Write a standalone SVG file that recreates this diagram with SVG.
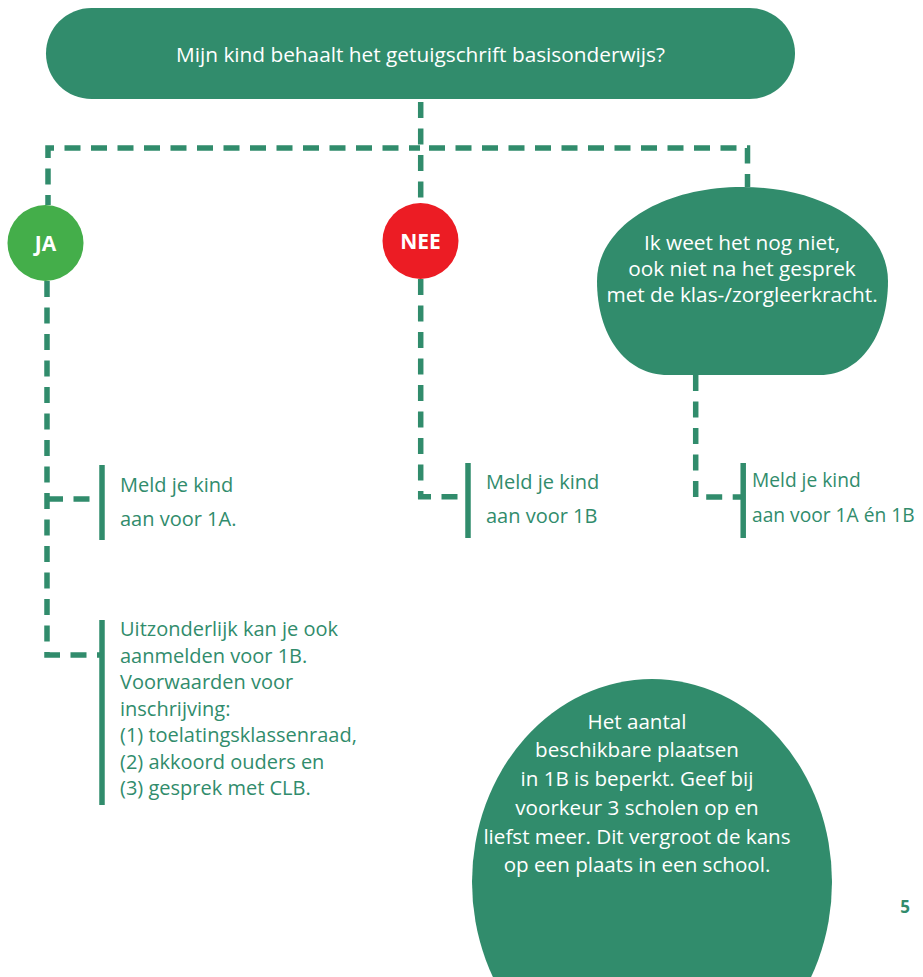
<svg xmlns="http://www.w3.org/2000/svg" width="923" height="977" viewBox="0 0 923 977">
<style>
.fill{fill:#318c6c}
.dash{fill:none;stroke:#318c6c;stroke-width:5.5;stroke-dasharray:16 10.5}
.bar{fill:none;stroke:#318c6c;stroke-width:5.5}
.w{font-family:"Open Sans","Liberation Sans",sans-serif;fill:#ffffff;text-anchor:middle}
.lbl{font-family:"Open Sans","Liberation Sans",sans-serif;fill:#318c6c;font-size:20px}
.big{font-family:"Open Sans","Liberation Sans",sans-serif;font-weight:bold;fill:#ffffff;text-anchor:middle;font-size:21px}
</style>
<rect width="923" height="977" fill="#ffffff"/>
<g id="connectors">
<path class="dash" d="M420.7 102 V203"/>
<path class="dash" d="M48 205 V148 H420" stroke-dashoffset="6"/>
<path class="dash" d="M747.5 187 V148 H420" stroke-dashoffset="3"/>
<path class="dash" d="M47 281 V655 H102"/>
<path class="dash" d="M47 499 H102"/>
<path class="dash" d="M420.7 279 V496.7 H468"/>
<path class="dash" d="M695.7 375 V497 H743"/>
<path class="bar" d="M102 465 V540"/>
<path class="bar" d="M102 620 V805"/>
<path class="bar" d="M468 463 V538"/>
<path class="bar" d="M743.2 463 V538"/>
</g>
<g id="question">
<rect class="fill" x="46" y="8" width="749" height="91" rx="45.5"/>
<text class="w" x="420.5" y="62" font-size="20.8px">Mijn kind behaalt het getuigschrift basisonderwijs?</text>
</g>
<g id="ja">
<circle cx="45.5" cy="243" r="38" fill="#44ae4a"/>
<text class="big" x="45.5" y="250.5">JA</text>
</g>
<g id="nee">
<circle cx="420.5" cy="241" r="38" fill="#ec1c24"/>
<text class="big" x="420.5" y="248.5">NEE</text>
</g>
<g id="weetniet">
<path class="fill" d="M597 281 C597 228 660 187 742 187 C825 187 888 228 888 281 C888 335 860 375 820 375 L668 375 C625 375 597 335 597 281 Z"/>
<text class="w" font-size="20.8px"><tspan x="742" y="250">Ik weet het nog niet,</tspan><tspan x="742" y="276">ook niet na het gesprek</tspan><tspan x="742" y="302">met de klas-/zorgleerkracht.</tspan></text>
</g>
<g id="ja-1a">
<text class="lbl"><tspan x="120" y="491.5">Meld je kind</tspan><tspan x="120" y="526">aan voor 1A.</tspan></text>
</g>
<g id="ja-1b">
<text class="lbl"><tspan x="120" y="636">Uitzonderlijk kan je ook</tspan><tspan x="120" y="662.5">aanmelden voor 1B.</tspan><tspan x="120" y="689">Voorwaarden voor</tspan><tspan x="120" y="715.5">inschrijving:</tspan><tspan x="120" y="742">(1) toelatingsklassenraad,</tspan><tspan x="120" y="768.5">(2) akkoord ouders en</tspan><tspan x="120" y="795">(3) gesprek met CLB.</tspan></text>
</g>
<g id="nee-1b">
<text class="lbl"><tspan x="486" y="489">Meld je kind</tspan><tspan x="486" y="522.5">aan voor 1B</tspan></text>
</g>
<g id="weetniet-1a1b">
<text class="lbl" font-size="19.2px" style="font-size:19.2px"><tspan x="752" y="487">Meld je kind</tspan><tspan x="752" y="521.5">aan voor 1A én 1B</tspan></text>
</g>
<g id="note">
<ellipse class="fill" cx="652" cy="882" rx="180" ry="203"/>
<text class="w" font-size="20.6px"><tspan x="637" y="728.5">Het aantal</tspan><tspan x="637" y="757.3">beschikbare plaatsen</tspan><tspan x="637" y="786">in 1B is beperkt. Geef bij</tspan><tspan x="637" y="815">voorkeur 3 scholen op en</tspan><tspan x="637" y="843.5">liefst meer. Dit vergroot de kans</tspan><tspan x="637" y="872">op een plaats in een school.</tspan></text>
</g>
<text x="905" y="913" font-family="'Open Sans','Liberation Sans',sans-serif" font-weight="bold" font-size="17px" fill="#318c6c" text-anchor="middle">5</text>
</svg>
